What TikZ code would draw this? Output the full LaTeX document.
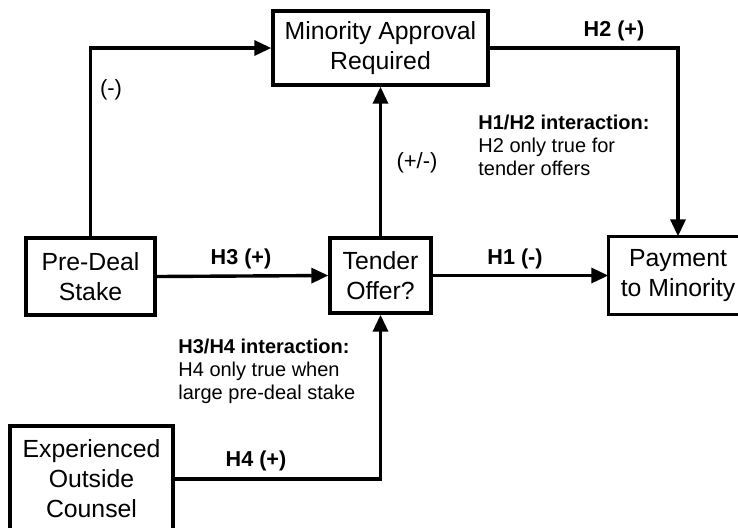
\documentclass[tikz,border=0pt]{standalone}
\usepackage{fontspec}
\setmainfont{Liberation Sans}
\usetikzlibrary{arrows.meta}

\begin{document}
\begin{tikzpicture}[line join=miter,x=0.5pt,y=-0.5pt,
  >={Triangle[length=8.5pt,width=7.5pt]},
  box/.style={draw,line width=1.7pt,align=center,inner sep=0pt,font=\fontsize{12.4}{15}\selectfont},
  hyp/.style={inner sep=0pt,font=\bfseries\fontsize{10.8}{13}\selectfont},
  sign/.style={inner sep=0pt,font=\fontsize{11}{13}\selectfont},
  note/.style={align=left,anchor=west,inner sep=0pt,font=\fontsize{10}{11.5}\selectfont},
  link/.style={->,line width=1.7pt}]
\useasboundingbox (0,0) rectangle (738,527);
% boxes
\node[box,minimum width=107.5pt,minimum height=37pt] (approval) at (380.5,48) {Minority Approval\\Required};
\node[box,minimum width=64.5pt,minimum height=38.5pt] (stake) at (90.5,276.5) {Pre-Deal\\Stake};
\node[box,minimum width=50.5pt,minimum height=37.5pt] (tender) at (380.5,275.5) {Tender\\Offer?};
\node[box,draw=none,minimum width=68pt,minimum height=37.5pt] (payment) at (678,275.5) {Payment\\to Minority};
\draw[line width=1.7pt] (payment.north west) rectangle ([xshift=20pt]payment.south east);
\node[box,minimum width=81.5pt,minimum height=53pt] (counsel) at (91.5,479) {Experienced\\Outside\\Counsel};
% links
\draw[link] (stake.north) |- (approval.west);
\draw[link] (tender.north) -- (approval.south);
\draw[link] (approval.east) -| (payment.north);
\draw[link] (stake.east) -- (tender.west);
\draw[link] (tender.east) -- (payment.west);
\draw[link] (counsel.east) -| (tender.south);
% labels
\node[sign] (minus) at (111,90) {(-)};
\node[sign] (plusminus) at (417,163) {(+/-)};
\node[hyp] (h2) at (614,31) {H2 (+)};
\node[hyp] (h3) at (241,259) {H3 (+)};
\node[hyp] (h1) at (515,259) {H1 (-)};
\node[hyp] (h4) at (256,461) {H4 (+)};
\node[note] (h1h2) at (478,145) {\textbf{H1/H2 interaction:}\\H2 only true for\\tender offers};
\node[note] (h3h4) at (178,371) {\textbf{H3/H4 interaction:}\\H4 only true when\\large pre-deal stake};
\end{tikzpicture}
\end{document}
